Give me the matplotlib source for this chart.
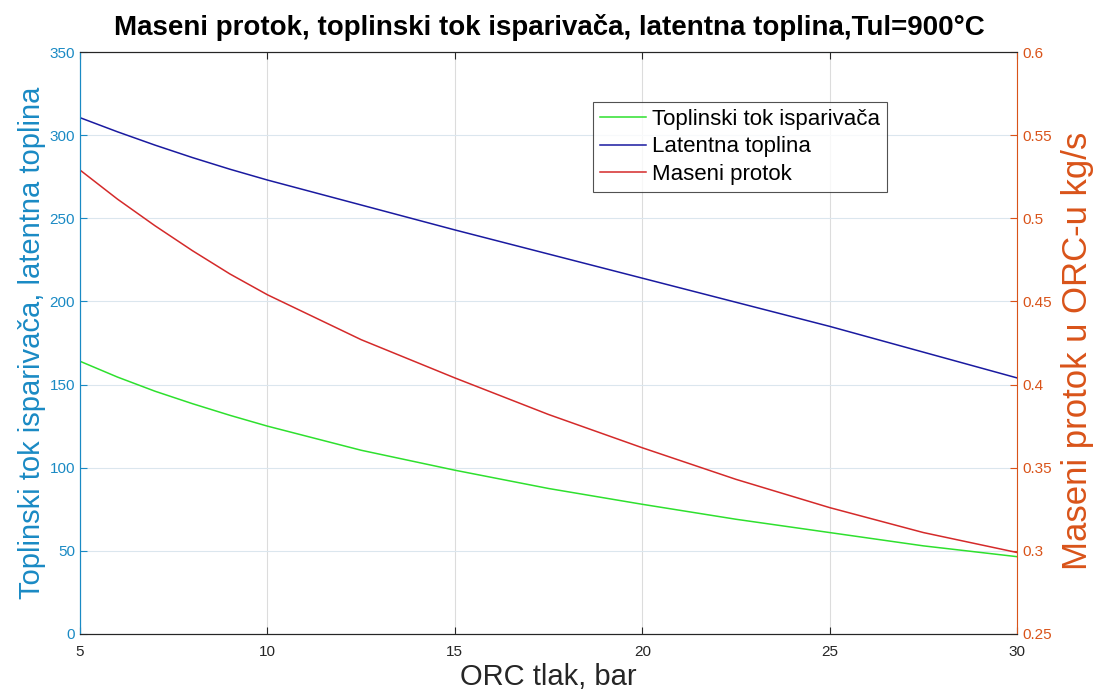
import matplotlib
matplotlib.use("Agg")
import matplotlib.pyplot as plt

plt.rcParams.update({
    "font.family": ["Liberation Sans", "DejaVu Sans"],
    "axes.unicode_minus": False,
})

# ORC tlak, bar
tlak = [5, 6, 7, 8, 9, 10, 12.5, 15, 17.5, 20, 22.5, 25, 27.5, 30]
# lijeva os
toplinski_tok = [164, 154.5, 146, 138.5, 131.5, 125, 110.5, 98.5, 87.5, 78, 69, 61, 53, 46.5]
latentna_toplina = [310.5, 302, 294, 286.5, 279.5, 273, 258, 243, 228.5, 214, 199.5, 185, 169.5, 154]
# desna os, kg/s
maseni_protok = [0.529, 0.5115, 0.4955, 0.4805, 0.4665, 0.454, 0.427, 0.404, 0.382, 0.362,
                 0.343, 0.326, 0.311, 0.299]

LEFT_C = "#1a8ac4"
RIGHT_C = "#d95319"

fig = plt.figure(figsize=(10.98, 6.99), dpi=100)
ax = fig.add_axes([0.0729, 0.093, 0.8534, 0.8326])
ax2 = ax.twinx()

l1, = ax.plot(tlak, toplinski_tok, color="#2ee02e", lw=1.1, label="Toplinski tok isparivača")
l2, = ax.plot(tlak, latentna_toplina, color="#1a1aa0", lw=1.1, label="Latentna toplina")
l3, = ax2.plot(tlak, maseni_protok, color="#d42a2a", lw=1.1, label="Maseni protok")

ax.set_xlim(5, 30)
ax.set_ylim(0, 350)
ax2.set_ylim(0.25, 0.6)
ax.set_xticks(range(5, 31, 5))
ax.set_yticks(range(0, 351, 50))
ax2.set_yticks([0.25, 0.3, 0.35, 0.4, 0.45, 0.5, 0.55, 0.6])
ax2.set_yticklabels(["0.25", "0.3", "0.35", "0.4", "0.45", "0.5", "0.55", "0.6"])

ax.grid(True, axis="x", color="#dcdcdc", lw=0.8)
ax.grid(True, axis="y", color="#dbe6ee", lw=0.8)
ax.set_axisbelow(True)

ax.tick_params(axis="x", direction="in", length=5, colors="#262626", labelsize=11, pad=8, top=True)
ax.tick_params(axis="y", direction="in", length=5, colors=LEFT_C, labelsize=11)
ax2.tick_params(axis="y", direction="in", length=5, colors=RIGHT_C, labelsize=11)

ax.spines["left"].set_color(LEFT_C)
ax2.spines["left"].set_color(LEFT_C)
ax2.spines["right"].set_color(RIGHT_C)
ax.spines["right"].set_visible(False)
for sp in ("top", "bottom"):
    ax.spines[sp].set_color("#262626")
    ax2.spines[sp].set_color("#262626")

ax.set_xlabel("ORC tlak, bar", fontsize=21, color="#262626", labelpad=3)
ax.set_ylabel("Toplinski tok isparivača, latentna toplina", fontsize=21, color=LEFT_C, labelpad=3)
ax2.set_ylabel("Maseni protok u ORC-u kg/s", fontsize=25, color=RIGHT_C, va="center")
ax2.yaxis.set_label_coords(1.065, 0.486)

fig.text(0.5, 0.96, "Maseni protok, toplinski tok isparivača, latentna toplina,Tul=900°C",
         fontsize=20, fontweight="bold", ha="center", va="center")

leg = ax2.legend(handles=[l1, l2, l3], loc="upper left", bbox_to_anchor=(0.5475, 0.914),
                 fontsize=16, frameon=True, fancybox=False, edgecolor="#262626",
                 handlelength=2.1, handletextpad=0.27, borderpad=0.3, labelspacing=0.3,
                 borderaxespad=0)
leg.get_frame().set_linewidth(0.8)

fig.savefig("out.png", dpi=100, facecolor="white")
